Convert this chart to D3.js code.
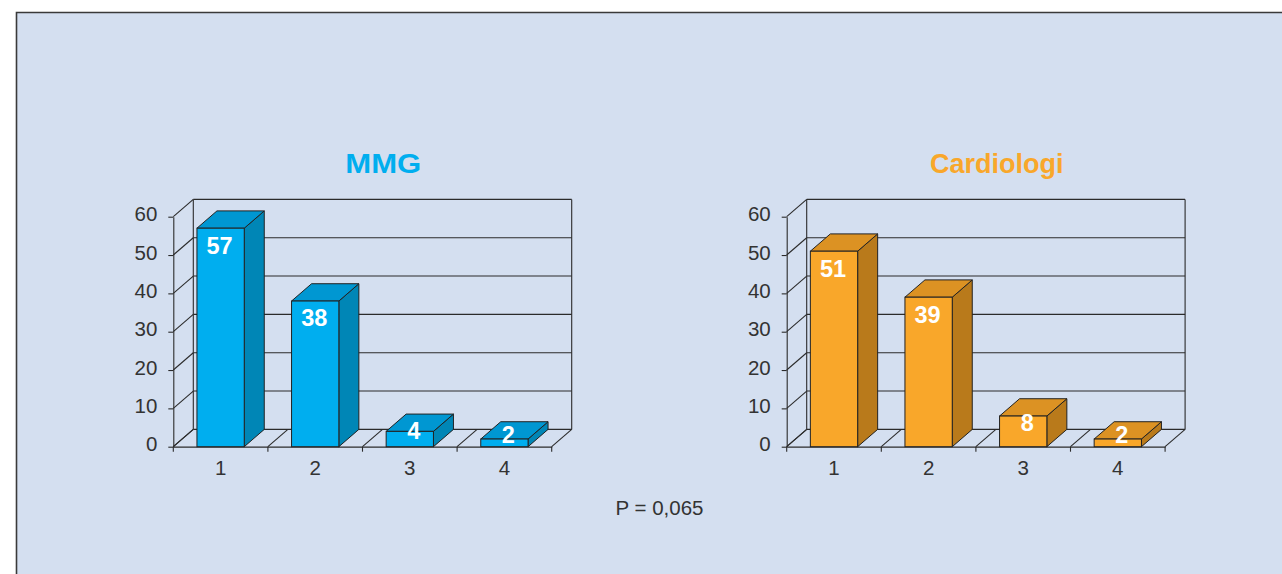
<!DOCTYPE html>
<html>
<head>
<meta charset="utf-8">
<script src="https://cdn.jsdelivr.net/npm/d3@7"></script>
<style>
  html, body { margin: 0; padding: 0; background: #ffffff; }
  svg { display: block; font-family: "Liberation Sans", Arial, sans-serif; }
</style>
</head>
<body>
<svg id="chart" width="1282" height="574"></svg>
<script>
// Answer categories and percentages for the two respondent groups
const categories = ["1", "2", "3", "4"];
const mmgValues = [57, 38, 4, 2];
const cardioValues = [51, 39, 8, 2];
const yTicks = [0, 10, 20, 30, 40, 50, 60];
const panelTitles = ["MMG", "Cardiologi"];
const footnote = "P = 0,065";

const svg = d3.select("#chart");

// panel background with its top/left rule
svg.append("rect")
  .attr("x", 16.5).attr("y", 12.5)
  .attr("width", 1300).attr("height", 600)
  .attr("fill", "#d4dff0");
svg.append("path")
  .attr("d", "M16.5,580 V12.5 H1290")
  .attr("fill", "none").attr("stroke", "#3a3a3a").attr("stroke-width", 1.6);

// 3D projection offsets (depth of the plot box)
const DX = 20, DY = -17.3;
const plotW = 378.4;
const base = 446.7, top60 = 216.7;

const palettes = [
  { front: "#00aeef", side: "#0086b6", top: "#0097d2", title: "#00aeef", titleWidth: 76 },
  { front: "#f9a72a", side: "#b97a1b", top: "#dc9223", title: "#f9a72a", titleWidth: null }
];

function drawPanel(x0, values, title, pal) {
  const g = svg.append("g");
  const x = d3.scaleBand().domain(categories).range([x0, x0 + plotW]).padding(0);
  const y = d3.scaleLinear().domain([0, 60]).range([base, top60]);
  const line = "#2b2b2b";

  // back wall gridlines and side-wall diagonals
  yTicks.forEach(v => {
    g.append("line")
      .attr("x1", x0 + DX).attr("x2", x0 + plotW + DX)
      .attr("y1", y(v) + DY).attr("y2", y(v) + DY)
      .attr("stroke", line).attr("stroke-width", 1.1);
    g.append("line")
      .attr("x1", x0).attr("y1", y(v))
      .attr("x2", x0 + DX).attr("y2", y(v) + DY)
      .attr("stroke", line).attr("stroke-width", 1.1);
  });
  // back wall verticals
  [x0 + DX, x0 + plotW + DX].forEach(xv => {
    g.append("line")
      .attr("x1", xv).attr("x2", xv)
      .attr("y1", y(60) + DY).attr("y2", y(0) + DY)
      .attr("stroke", line).attr("stroke-width", 1.1);
  });

  // floor diagonals at category boundaries + small ticks below the base
  const bounds = categories.map(c => x(c)).concat([x0 + plotW]);
  bounds.forEach(xb => {
    g.append("line")
      .attr("x1", xb).attr("y1", base)
      .attr("x2", xb + DX).attr("y2", base + DY)
      .attr("stroke", line).attr("stroke-width", 1.1);
    g.append("line")
      .attr("x1", xb).attr("x2", xb)
      .attr("y1", base).attr("y2", base + 5)
      .attr("stroke", line).attr("stroke-width", 1.1);
  });

  // y axis
  const yAxis = g.append("g")
    .attr("transform", `translate(${x0},0)`)
    .call(d3.axisLeft(y).tickValues(yTicks).tickSize(5).tickSizeOuter(0).tickPadding(11));
  yAxis.selectAll("path, line").attr("stroke", line).attr("stroke-width", 1.1);
  yAxis.selectAll("text")
    .attr("font-size", 20.5).attr("fill", "#333")
    .attr("font-family", "Liberation Sans, Arial, sans-serif")
    .attr("dy", "0.2em");

  // x axis (labels centred in bands, baseline rule)
  const xAxis = g.append("g")
    .attr("transform", `translate(0,${base})`)
    .call(d3.axisBottom(x).tickSize(0).tickPadding(14));
  xAxis.select("path").attr("stroke", line).attr("stroke-width", 1.2);
  xAxis.selectAll("text")
    .attr("font-size", 20.5).attr("fill", "#333")
    .attr("font-family", "Liberation Sans, Arial, sans-serif");

  // 3D bars
  const bw = x.bandwidth() * 0.5;
  const bars = g.selectAll("g.bar")
    .data(categories.map((c, i) => ({ c, v: values[i] })))
    .join("g").attr("class", "bar");

  bars.each(function(d) {
    const b = d3.select(this);
    const xl = x(d.c) + (x.bandwidth() - bw) / 2;
    const xr = xl + bw;
    const yt = y(d.v);
    // side face
    b.append("path")
      .attr("d", `M${xr},${base} L${xr + DX},${base + DY} L${xr + DX},${yt + DY} L${xr},${yt} Z`)
      .attr("fill", pal.side).attr("stroke", "#222").attr("stroke-width", 1).attr("stroke-linejoin", "round");
    // top face
    b.append("path")
      .attr("d", `M${xl},${yt} L${xl + DX},${yt + DY} L${xr + DX},${yt + DY} L${xr},${yt} Z`)
      .attr("fill", pal.top).attr("stroke", "#222").attr("stroke-width", 1).attr("stroke-linejoin", "round");
    // front face
    b.append("rect")
      .attr("x", xl).attr("y", yt)
      .attr("width", bw).attr("height", base - yt)
      .attr("fill", pal.front).attr("stroke", "#222").attr("stroke-width", 1);

    // value label: inside the top end, or centred on the block when it is short
    const insideEnd = yt + 17;
    const boxCentre = (yt + DY + base) / 2;
    const short = boxCentre < insideEnd;
    const ly = Math.min(insideEnd, boxCentre);
    const lx = (xl + xr) / 2 + (short ? 4 : -1);
    b.append("text")
      .attr("x", lx).attr("y", ly)
      .attr("dy", "0.36em")
      .attr("text-anchor", "middle")
      .attr("font-size", 23.5).attr("font-weight", "bold")
      .attr("fill", "#ffffff")
      .text(d.v);
  });

  // panel title
  const t = g.append("text")
    .attr("x", x0 + 210).attr("y", 173)
    .attr("text-anchor", "middle")
    .attr("font-size", 27).attr("font-weight", "bold")
    .attr("fill", pal.title)
    .text(title);
  if (pal.titleWidth) {
    t.attr("textLength", pal.titleWidth).attr("lengthAdjust", "spacingAndGlyphs");
  }
}

drawPanel(173.3, mmgValues, panelTitles[0], palettes[0]);
drawPanel(786.7, cardioValues, panelTitles[1], palettes[1]);

svg.append("text")
  .attr("x", 659.5).attr("y", 515)
  .attr("text-anchor", "middle")
  .attr("font-size", 20.5).attr("fill", "#333")
  .text(footnote);
</script>
</body>
</html>
